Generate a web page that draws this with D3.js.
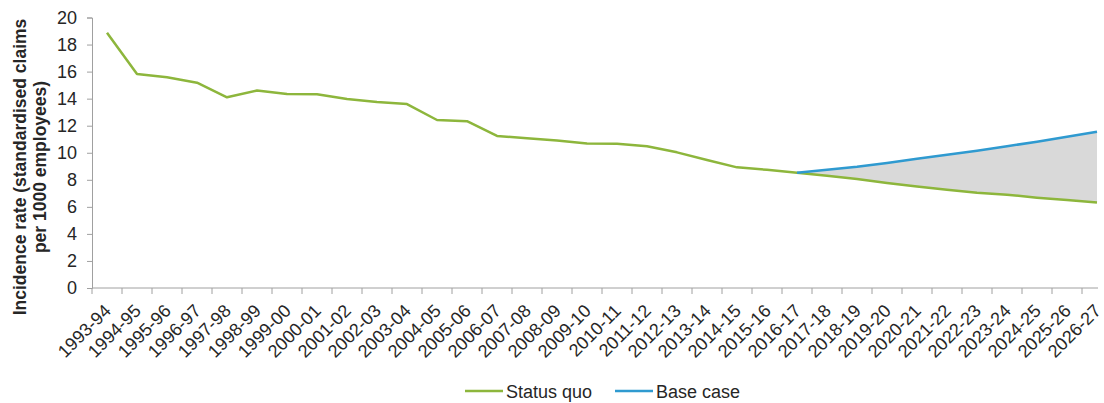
<!DOCTYPE html>
<html>
<head>
<meta charset="utf-8">
<script src="https://cdn.jsdelivr.net/npm/d3@7/dist/d3.min.js"></script>
<style>
  html, body { margin: 0; padding: 0; background: #fff; }
  svg { display: block; font-family: "Liberation Sans", Arial, sans-serif; }
</style>
</head>
<body>
<svg id="chart" width="1104" height="403"></svg>
<script>
// Financial years on the category axis
const years = [
  "1993-94","1994-95","1995-96","1996-97","1997-98","1998-99","1999-00",
  "2000-01","2001-02","2002-03","2003-04","2004-05","2005-06","2006-07",
  "2007-08","2008-09","2009-10","2010-11","2011-12","2012-13","2013-14",
  "2014-15","2015-16","2016-17","2017-18","2018-19","2019-20","2020-21",
  "2021-22","2022-23","2023-24","2024-25","2025-26","2026-27"
];

// Incidence rate, standardised claims per 1000 employees
const statusQuo = [
  18.88, 15.82, 15.58, 15.18, 14.10, 14.60, 14.34, 14.33, 13.97, 13.75,
  13.60, 12.42, 12.33, 11.24, 11.07, 10.90, 10.68, 10.66, 10.48, 10.03,
  9.46, 8.92, 8.74, 8.52, 8.30, 8.06, 7.76, 7.50, 7.26, 7.04,
  6.90, 6.68, 6.50, 6.33
];

// Projection only exists from 2016-17 onwards
const baseCase = [
  null, null, null, null, null, null, null, null, null, null,
  null, null, null, null, null, null, null, null, null, null,
  null, null, null, 8.52, 8.74, 8.97, 9.25, 9.56, 9.85, 10.15,
  10.48, 10.82, 11.18, 11.55
];

const yTicks = [0, 2, 4, 6, 8, 10, 12, 14, 16, 18, 20];

const legendItems = [
  { label: "Status quo", color: "#8db63c" },
  { label: "Base case", color: "#2f9ad0" }
];

const greenColor = legendItems[0].color;
const blueColor = legendItems[1].color;
const axisColor = "#a0a0a0";
const textColor = "#262626";

const svg = d3.select("#chart");

const plot = { left: 92, right: 1112, top: 17.5, bottom: 288 };

const x = d3.scaleBand()
  .domain(years)
  .range([plot.left, plot.right])
  .paddingInner(0).paddingOuter(0);
const cx = d => x(d) + x.bandwidth() / 2;

const y = d3.scaleLinear()
  .domain([0, 20])
  .range([plot.bottom, plot.top]);

// Shaded gap between the two projections
const gap = years.map((yr, i) => ({ yr, lo: statusQuo[i], hi: baseCase[i] }))
  .filter(d => d.hi !== null);

svg.append("path")
  .datum(gap)
  .attr("fill", "#d9d9d9")
  .attr("d", d3.area()
    .x(d => cx(d.yr))
    .y0(d => y(d.lo))
    .y1(d => y(d.hi)));

// Y axis
const yAxis = svg.append("g")
  .attr("transform", `translate(${plot.left},0)`)
  .call(d3.axisLeft(y).tickValues(yTicks).tickSize(5).tickPadding(10).tickFormat(d3.format("d")));
yAxis.select(".domain").attr("stroke", axisColor);
yAxis.selectAll(".tick line").attr("stroke", axisColor);
yAxis.selectAll(".tick text")
  .attr("fill", textColor)
  .style("font-size", "18px");

// X axis: ticks between categories, labels slanted at 45 degrees
const xAxisG = svg.append("g")
  .attr("transform", `translate(0,${plot.bottom})`);

xAxisG.append("line")
  .attr("x1", plot.left)
  .attr("x2", cx(years[years.length - 1]) + 1)
  .attr("stroke", axisColor);

xAxisG.selectAll("line.tick")
  .data(years)
  .join("line")
  .attr("class", "tick")
  .attr("x1", d => x(d)).attr("x2", d => x(d))
  .attr("y1", 0).attr("y2", 6)
  .attr("stroke", axisColor);

xAxisG.selectAll("text.lbl")
  .data(years)
  .join("text")
  .attr("class", "lbl")
  .attr("text-anchor", "end")
  .attr("transform", d => `translate(${cx(d) + 5},${24}) rotate(-45)`)
  .attr("fill", textColor)
  .style("font-size", "18px")
  .text(d => d);

// Series lines
const line = d3.line()
  .defined(d => d.v !== null)
  .x(d => cx(d.yr))
  .y(d => y(d.v));

svg.append("path")
  .datum(years.map((yr, i) => ({ yr, v: statusQuo[i] })))
  .attr("fill", "none")
  .attr("stroke", greenColor)
  .attr("stroke-width", 2.5)
  .attr("stroke-linejoin", "round")
  .attr("d", line);

svg.append("path")
  .datum(years.map((yr, i) => ({ yr, v: baseCase[i] })))
  .attr("fill", "none")
  .attr("stroke", blueColor)
  .attr("stroke-width", 2.5)
  .attr("stroke-linejoin", "round")
  .attr("d", line);

// Y axis title, two lines
const title = svg.append("text")
  .attr("transform", "translate(0,167) rotate(-90)")
  .attr("text-anchor", "middle")
  .attr("fill", textColor)
  .style("font-size", "17.5px")
  .style("font-weight", "bold");
title.append("tspan").attr("x", 0).attr("y", 26).text("Incidence  rate (standardised claims");
title.append("tspan").attr("x", 0).attr("y", 46).text("per 1000 employees)");

// Legend
const legend = svg.append("g").attr("transform", "translate(465,391)");
const legendX = [0, 150];
legendItems.forEach((item, i) => {
  const g = legend.append("g").attr("transform", `translate(${legendX[i]},0)`);
  g.append("line")
    .attr("x1", 0).attr("x2", 38)
    .attr("stroke", item.color)
    .attr("stroke-width", 2.5);
  g.append("text")
    .attr("x", 41).attr("y", 6.5)
    .attr("fill", textColor)
    .style("font-size", "18px")
    .text(item.label);
});
</script>
</body>
</html>
